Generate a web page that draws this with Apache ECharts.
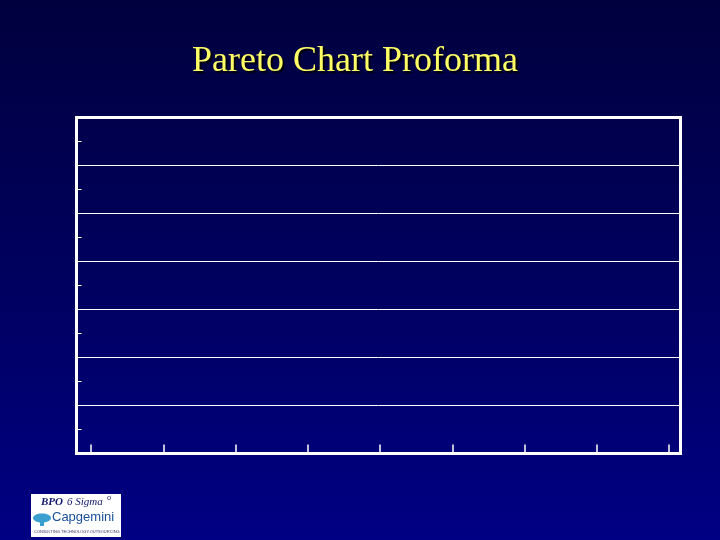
<!DOCTYPE html>
<html>
<head>
<meta charset="utf-8">
<script src="https://cdn.jsdelivr.net/npm/echarts@6/dist/echarts.min.js"></script>
<style>
html,body{margin:0;padding:0;width:720px;height:540px;overflow:hidden;}
#chart{width:720px;height:540px;}
</style>
</head>
<body>
<div id="chart"></div>
<script>
// Proforma (empty) Pareto chart: band categories only, no values yet
var titleText = 'Pareto Chart Proforma';
var xCategories = ['', '', '', '', '', '', '', ''];      // 8 bar slots -> 9 boundary ticks
var yBands = ['', '', '', '', '', '', ''];                // 7 horizontal bands
var barValues = [];                                        // empty proforma

var chart = echarts.init(document.getElementById('chart'), null, {renderer: 'canvas'});
var white = '#ffffff';
var option = {
  animation: false,
  backgroundColor: {
    type: 'linear', x: 0, y: 0, x2: 0, y2: 1,
    colorStops: [
      {offset: 0, color: '#00003e'},
      {offset: 0.5, color: '#00005e'},
      {offset: 1, color: '#000084'}
    ]
  },
  title: {
    text: titleText,
    left: 187,
    top: 39,
    textStyle: {
      fontFamily: 'Liberation Serif',
      fontWeight: 'normal',
      fontSize: 36,
      color: '#ffff66',
      textShadowColor: 'rgba(0,0,0,0.9)',
      textShadowOffsetX: 2,
      textShadowOffsetY: 2,
      textShadowBlur: 1
    }
  },
  grid: [
    {left: 76.5, top: 117.5, width: 604, height: 336, show: true,
     borderColor: white, borderWidth: 3, backgroundColor: 'transparent'},
    {left: 91, top: 117.5, width: 578, height: 336, show: false}
  ],
  xAxis: [
    {gridIndex: 0, type: 'category', data: xCategories, show: false},
    {gridIndex: 1, type: 'category', data: xCategories, boundaryGap: true,
     axisLine: {show: false},
     axisTick: {show: true, inside: true, length: 9, interval: 0,
                lineStyle: {color: white, width: 1.5}},
     axisLabel: {show: false},
     splitLine: {show: false}}
  ],
  yAxis: [
    {gridIndex: 0, type: 'category', data: yBands, boundaryGap: true,
     axisLine: {show: false},
     axisTick: {show: true, inside: true, length: 5, alignWithLabel: true, interval: 0,
                lineStyle: {color: white, width: 1}},
     axisLabel: {show: false, interval: 0},
     splitLine: {show: true, interval: 0, lineStyle: {color: white, width: 1}}},
    {gridIndex: 1, type: 'value', show: false, min: 0, max: 100}
  ],
  series: [
    {type: 'bar', xAxisIndex: 1, yAxisIndex: 1, data: barValues}
  ],
  graphic: [
    {type: 'group', left: 31, top: 494, children: [
      {type: 'rect', shape: {x: 0, y: 0, width: 90, height: 43},
       style: {fill: '#ffffff'}},
      {type: 'text', x: 10, y: 3,
       style: {text: 'BPO', font: 'italic bold 11px "Liberation Serif"', fill: '#10186a'}},
      {type: 'text', x: 36, y: 3,
       style: {text: '6 Sigma', font: 'italic 11px "Liberation Serif"', fill: '#10186a'}},
      {type: 'text', x: 76, y: 0,
       style: {text: 'σ', font: '8px "Liberation Serif"', fill: '#10186a'}},
      {type: 'ellipse', shape: {cx: 11, cy: 24, rx: 9, ry: 4.5},
       style: {fill: '#3aa0d0'}},
      {type: 'rect', shape: {x: 9, y: 27, width: 4, height: 5},
       style: {fill: '#3aa0d0'}},
      {type: 'text', x: 21, y: 17,
       style: {text: 'Capgemini', font: '13px "Liberation Sans"', fill: '#1a4f9a'}},
      {type: 'text', x: 3, y: 36,
       style: {text: 'CONSULTING.TECHNOLOGY.OUTSOURCING', font: '4px "Liberation Sans"', fill: '#333366'}}
    ]}
  ]
};
chart.setOption(option);
</script>
</body>
</html>
